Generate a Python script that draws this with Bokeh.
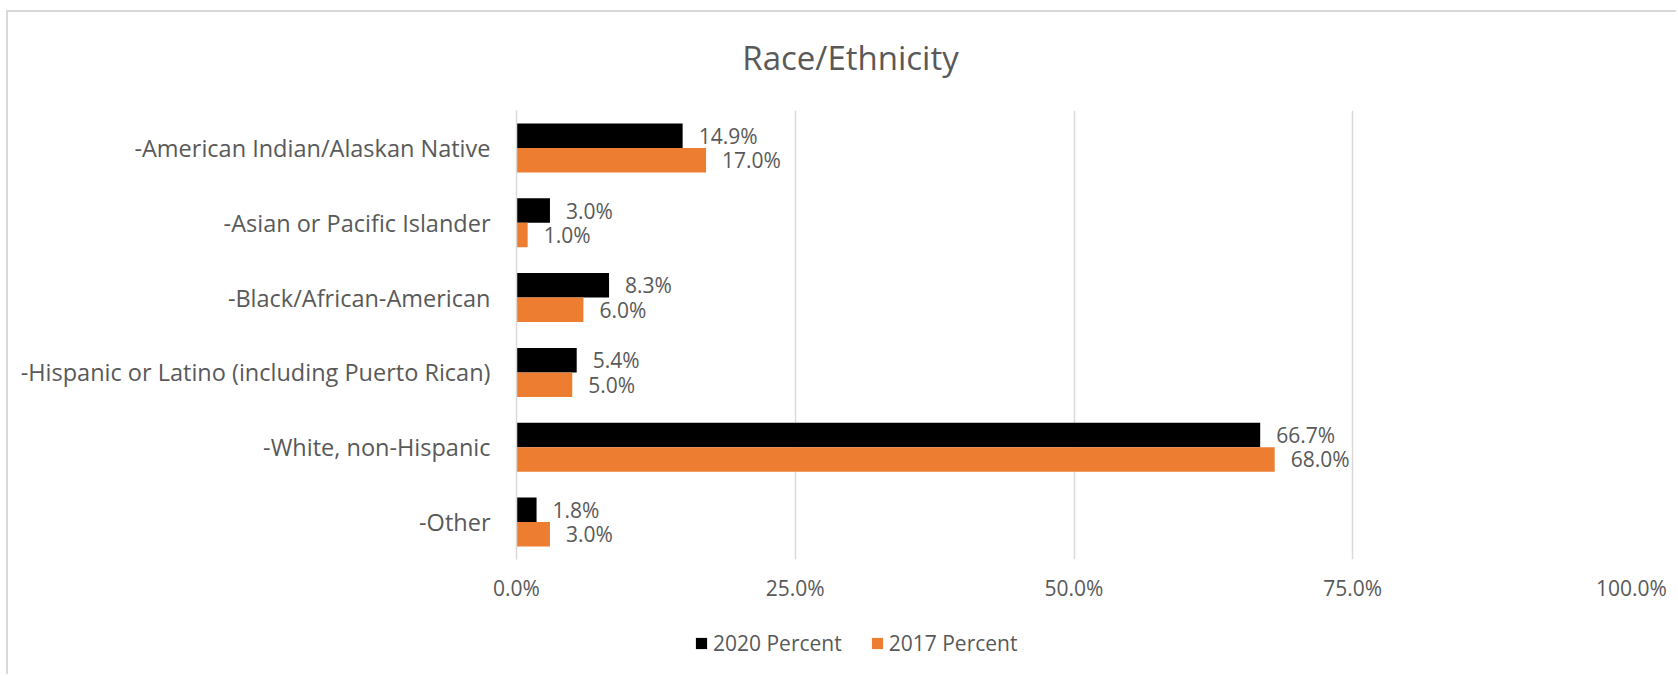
from bokeh.plotting import figure
from bokeh.layouts import column
from bokeh.models import (ColumnDataSource, FactorRange, Range1d, FixedTicker,
                          PrintfTickFormatter, Legend, LegendItem, Label)
from bokeh.transform import dodge
from bokeh.core.properties import value
from bokeh.embed import file_html
from bokeh.resources import INLINE

# ---- data ----
categories = [
    "-American Indian/Alaskan Native",
    "-Asian or Pacific Islander",
    "-Black/African-American",
    "-Hispanic or Latino (including Puerto Rican)",
    "-White, non-Hispanic",
    "-Other",
]
pct_2020 = [14.9, 3.0, 8.3, 5.4, 66.7, 1.8]
pct_2017 = [17.0, 1.0, 6.0, 5.0, 68.0, 3.0]
series_names = ["2020 Percent", "2017 Percent"]
x_ticks = [0, 25, 50, 75, 100]
title_text = "Race/Ethnicity"

# ---- styles ----
FONT = "Open Sans"
TEXT = "#595959"
GRID = "#d9d9d9"
BLACK = "#000000"
ORANGE = "#ED7D31"
FS = "21px"
FS_CAT = "23.5px"
BAR_H = 0.327
W = 1668
LEFT = 508


def blank_fig(h, y_range):
    f = figure(width=W, height=h, x_range=Range1d(0, 1), y_range=y_range,
               x_axis_type=None, y_axis_type=None, output_backend="svg",
               toolbar_location=None, min_border=0)
    f.outline_line_color = None
    f.grid.visible = False
    f.background_fill_color = "white"
    f.border_fill_color = "white"
    return f


# ---- title strip (y measured downward in pixels) ----
tf = blank_fig(98, Range1d(98, 0))
tf.add_layout(Label(x=842 - LEFT, y=45, x_units="screen", y_units="data", text=title_text,
                    text_align="center", text_baseline="middle",
                    text_font=FONT, text_font_size="33px", text_color=TEXT))

# ---- main chart ----
src = ColumnDataSource(dict(
    cat=categories,
    v20=pct_2020,
    v17=pct_2017,
    l20=[f"{v:.1f}%" for v in pct_2020],
    l17=[f"{v:.1f}%" for v in pct_2017],
))

p = figure(
    width=W, height=500, title=None,
    y_range=FactorRange(*categories[::-1]),
    x_range=Range1d(0, 100),
    output_backend="svg", toolbar_location=None,
    min_border_left=LEFT, min_border_right=45,
    min_border_top=0, min_border_bottom=51,
)
p.outline_line_color = None
p.background_fill_color = "white"
p.border_fill_color = "white"

p.hbar(y=dodge("cat", BAR_H / 2, range=p.y_range), left=0, right="v20",
       height=BAR_H, fill_color=BLACK, line_color=None, source=src)
p.hbar(y=dodge("cat", -BAR_H / 2, range=p.y_range), left=0, right="v17",
       height=BAR_H, fill_color=ORANGE, line_color=None, source=src)

for col, lab, off in (("v20", "l20", BAR_H / 2), ("v17", "l17", -BAR_H / 2)):
    p.text(x=col, y=dodge("cat", off, range=p.y_range), text=lab, x_offset=16,
           text_align="left", text_baseline="middle",
           text_font=value(FONT), text_font_size=FS, text_color=TEXT, source=src)

p.xaxis.ticker = FixedTicker(ticks=x_ticks)
p.xaxis.formatter = PrintfTickFormatter(format="%.1f%%")
p.xaxis.axis_line_color = None
p.xaxis.major_tick_line_color = None
p.xaxis.minor_tick_line_color = None
p.xaxis.major_tick_out = 0
p.xaxis.major_label_standoff = 14
p.xaxis.major_label_text_font = FONT
p.xaxis.major_label_text_font_size = FS
p.xaxis.major_label_text_color = TEXT

p.yaxis.axis_line_color = GRID
p.yaxis.axis_line_width = 1.5
p.yaxis.major_tick_line_color = None
p.yaxis.minor_tick_line_color = None
p.yaxis.major_tick_out = 0
p.yaxis.major_label_standoff = 26
p.yaxis.major_label_text_font = FONT
p.yaxis.major_label_text_font_size = FS_CAT
p.yaxis.major_label_text_color = TEXT

p.xgrid.grid_line_color = GRID
p.xgrid.grid_line_width = 1.5
p.ygrid.grid_line_color = None

# ---- legend strip ----
lf = blank_fig(64, Range1d(0, 1))
key_src = ColumnDataSource(dict(y=list(range(len(categories))), v20=pct_2020, v17=pct_2017))
k20 = lf.hbar(y="y", left=0, right="v20", height=BAR_H, fill_color=BLACK,
              line_color=None, source=key_src, visible=False)
k17 = lf.hbar(y="y", left=0, right="v17", height=BAR_H, fill_color=ORANGE,
              line_color=None, source=key_src, visible=False)
legend = Legend(
    items=[LegendItem(label=series_names[0], renderers=[k20]),
           LegendItem(label=series_names[1], renderers=[k17])],
    location=(686 - LEFT, 17), orientation="horizontal", click_policy="none",
    glyph_width=14, glyph_height=14, label_standoff=5, spacing=28,
    padding=0, margin=0, border_line_color=None, background_fill_alpha=0,
    inactive_fill_alpha=0,
    label_text_font=FONT, label_text_font_size=FS, label_text_color=TEXT,
    label_height=20,
)
lf.add_layout(legend)

layout = column(tf, p, lf, spacing=0)
layout.styles = {"border-top": "2px solid #d9d9d9", "border-left": "2px solid #d9d9d9",
                 "margin-top": "10px", "margin-left": "6px"}

open("out.html", "w").write(file_html(layout, INLINE))
